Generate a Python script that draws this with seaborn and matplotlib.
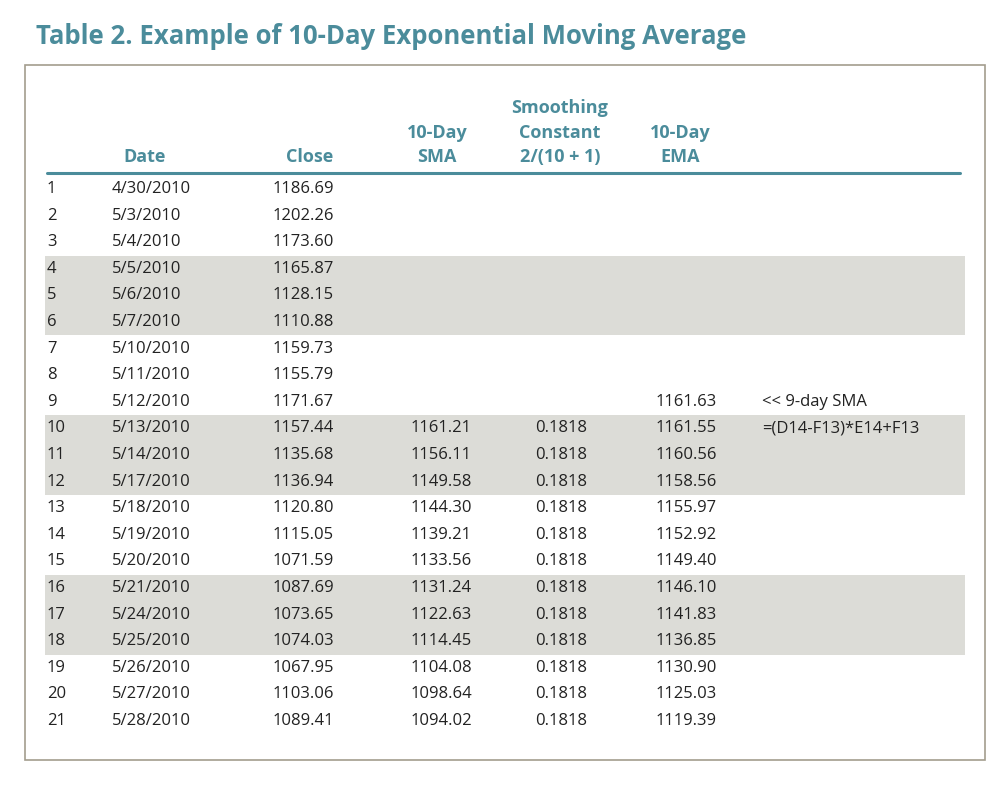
import matplotlib
matplotlib.use("Agg")
import matplotlib.pyplot as plt
import seaborn as sns

sns.set_theme(style="white")
plt.rcParams["font.family"] = ["Open Sans", "DejaVu Sans"]

TEAL = "#4b8c9b"
SHADE = "#dcdcd7"

TITLE = "Table 2. Example of 10-Day Exponential Moving Average"
HEADERS = ["Date", "Close", "10-Day\nSMA", "Smoothing\nConstant\n2/(10 + 1)", "10-Day\nEMA"]
days = list(range(1, 22))
dates = ["4/30/2010", "5/3/2010", "5/4/2010", "5/5/2010", "5/6/2010", "5/7/2010",
         "5/10/2010", "5/11/2010", "5/12/2010", "5/13/2010", "5/14/2010", "5/17/2010",
         "5/18/2010", "5/19/2010", "5/20/2010", "5/21/2010", "5/24/2010", "5/25/2010",
         "5/26/2010", "5/27/2010", "5/28/2010"]
close = [1186.69, 1202.26, 1173.60, 1165.87, 1128.15, 1110.88, 1159.73, 1155.79,
         1171.67, 1157.44, 1135.68, 1136.94, 1120.80, 1115.05, 1071.59, 1087.69,
         1073.65, 1074.03, 1067.95, 1103.06, 1089.41]
sma = [None] * 9 + [1161.21, 1156.11, 1149.58, 1144.30, 1139.21, 1133.56, 1131.24,
                    1122.63, 1114.45, 1104.08, 1098.64, 1094.02]
smoothing = [None] * 9 + [0.1818] * 12
ema = [None] * 8 + [1161.63, 1161.55, 1160.56, 1158.56, 1155.97, 1152.92, 1149.40,
                    1146.10, 1141.83, 1136.85, 1130.90, 1125.03, 1119.39]
notes = [""] * 8 + ["<< 9-day SMA", "=(D14-F13)*E14+F13"] + [""] * 11

fig = plt.figure(figsize=(10, 7.88), dpi=100)
ax = fig.add_axes([0, 0, 1, 1])
ax.set_xlim(0, 1000)
ax.set_ylim(788, 0)
ax.axis("off")

ax.text(36, 36, TITLE, color=TEAL, fontsize=18.5, fontweight="bold", va="center", ha="left")
ax.add_patch(plt.Rectangle((25, 65), 960, 695, fill=False, edgecolor="#a39d8e", lw=1.2))

y0, dy = 189, 26.6
for i in range(len(days)):
    y = y0 + i * dy
    if (i // 3) % 2 == 1:
        ax.axhspan(y - dy / 2, y + dy / 2, xmin=0.045, xmax=0.965, color=SHADE, lw=0)
    kw = dict(fontsize=12, va="center", color="#222222")
    ax.text(47, y, str(days[i]), ha="left", **kw)
    ax.text(112, y, dates[i], ha="left", **kw)
    ax.text(273, y, f"{close[i]:.2f}", ha="left", **kw)
    if sma[i] is not None:
        ax.text(472, y, f"{sma[i]:.2f}", ha="right", **kw)
    if smoothing[i] is not None:
        ax.text(561, y, f"{smoothing[i]:.4f}", ha="center", **kw)
    if ema[i] is not None:
        ax.text(717, y, f"{ema[i]:.2f}", ha="right", **kw)
    if notes[i]:
        ax.text(762, y, notes[i], ha="left", **kw)

hx = [145, 310, 437, 560, 680]
for x, h in zip(hx, HEADERS):
    ax.text(x, 166, h, ha="center", va="bottom", color=TEAL, fontsize=13,
            fontweight="bold", linespacing=1.45)
ax.plot([47, 960], [172.5, 172.5], color=TEAL, lw=2.2)

fig.savefig("out.png", dpi=100)
